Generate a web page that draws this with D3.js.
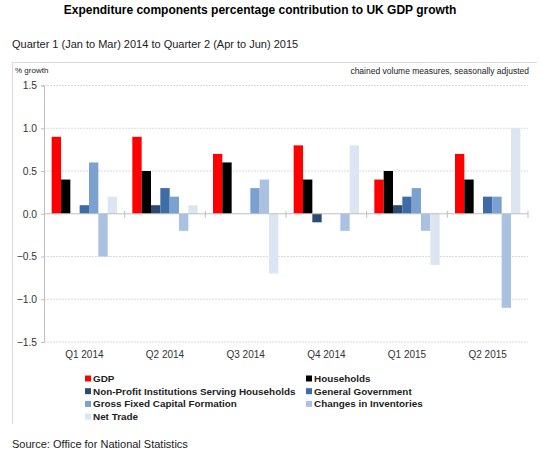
<!DOCTYPE html>
<html>
<head>
<meta charset="utf-8">
<script src="https://cdn.jsdelivr.net/npm/d3@7"></script>
<style>
  body { margin: 0; background: #fff; }
  svg { font-family: "Liberation Sans", Arial, sans-serif; }
</style>
</head>
<body>
<div id="chart"></div>
<script>
// chart values
const quarters = ["Q1 2014", "Q2 2014", "Q3 2014", "Q4 2014", "Q1 2015", "Q2 2015"];
const seriesNames = ["GDP", "Households", "Non-Profit Institutions Serving Households",
	"General Government", "Gross Fixed Capital Formation", "Changes in Inventories", "Net Trade"];
const gdp = [0.9, 0.9, 0.7, 0.8, 0.4, 0.7];
const households = [0.4, 0.5, 0.6, 0.4, 0.5, 0.4];
const npish = [0, 0.1, 0, -0.1, 0.1, 0];
const government = [0.1, 0.3, 0, 0, 0.2, 0.2];
const gfcf = [0.6, 0.2, 0.3, 0, 0.3, 0.2];
const inventories = [-0.5, -0.2, 0.4, -0.2, -0.2, -1.1];
const netTrade = [0.2, 0.1, -0.7, 0.8, -0.6, 1.0];
const yTicks = [-1.5, -1.0, -0.5, 0.0, 0.5, 1.0, 1.5];

const seriesValues = [gdp, households, npish, government, gfcf, inventories, netTrade];
const colors = ["#ff0000", "#000000", "#2c4a72", "#3d6ca7", "#7ba1d0", "#aac2e2", "#dce6f2"];

const width = 547, height = 459;
const plot = { left: 44, right: 528, top: 85.5, bottom: 342 };

const svg = d3.select("#chart").append("svg")
	.attr("width", width)
	.attr("height", height);

// frame (top and left edges only show)
svg.append("line")
	.attr("x1", 12).attr("x2", 537).attr("y1", 62.5).attr("y2", 62.5)
	.attr("stroke", "#d9d9d9");
svg.append("line")
	.attr("x1", 12.5).attr("x2", 12.5).attr("y1", 62).attr("y2", 424)
	.attr("stroke", "#d9d9d9");

// titles
svg.append("text")
	.attr("x", 260).attr("y", 14)
	.attr("text-anchor", "middle")
	.style("font-size", "12px")
	.style("font-weight", "bold")
	.text("Expenditure components percentage contribution to UK GDP growth");

svg.append("text")
	.attr("x", 12).attr("y", 48)
	.style("font-size", "11px")
	.attr("fill", "#222")
	.text("Quarter 1 (Jan to Mar) 2014 to Quarter 2 (Apr to Jun) 2015");

svg.append("text")
	.attr("x", 15).attr("y", 73)
	.style("font-size", "8px")
	.attr("fill", "#222")
	.text("% growth");

svg.append("text")
	.attr("x", 529).attr("y", 74)
	.attr("text-anchor", "end")
	.style("font-size", "8.5px")
	.attr("fill", "#222")
	.text("chained volume measures, seasonally adjusted");

// scales
const x0 = d3.scaleBand()
	.domain(quarters)
	.range([plot.left, plot.right]);

const x1 = d3.scaleBand()
	.domain(seriesNames)
	.range([0, x0.bandwidth()])
	.paddingOuter(0.82);

const y = d3.scaleLinear()
	.domain([-1.5, 1.5])
	.range([plot.bottom, plot.top]);

// gridlines
svg.append("g")
	.selectAll("line")
	.data(yTicks.filter(d => d !== 0))
	.join("line")
	.attr("x1", plot.left).attr("x2", plot.right)
	.attr("y1", d => y(d)).attr("y2", d => y(d))
	.attr("stroke", "#dadada")
	.attr("stroke-dasharray", "2,1");

// y axis
const yAxis = d3.axisLeft(y)
	.tickValues(yTicks)
	.tickFormat(d3.format(".1f"))
	.tickSize(3)
	.tickPadding(4);

const yAxisGroup = svg.append("g")
	.attr("transform", "translate(" + plot.left + ",0)")
	.call(yAxis);
yAxisGroup.select(".domain").attr("stroke", "#bfbfbf");
yAxisGroup.selectAll("line").attr("stroke", "#bfbfbf");
yAxisGroup.selectAll("text")
	.style("font-size", "10.3px")
	.style("font-family", "'Liberation Sans', Arial, sans-serif")
	.attr("fill", "#333");

// bars
const groups = svg.append("g")
	.selectAll("g")
	.data(quarters)
	.join("g")
	.attr("transform", d => "translate(" + x0(d) + ",0)");

groups.selectAll("rect")
	.data((q, i) => seriesNames.map((s, j) => ({ series: s, value: seriesValues[j][i], color: colors[j] })))
	.join("rect")
	.attr("x", d => x1(d.series))
	.attr("width", x1.bandwidth())
	.attr("y", d => y(Math.max(0, d.value)))
	.attr("height", d => Math.abs(y(d.value) - y(0)))
	.attr("fill", d => d.color);

// zero axis with category ticks
const xAxis = d3.axisBottom(x0).tickSize(0).tickPadding(0);
svg.append("line")
	.attr("x1", plot.left).attr("x2", plot.right)
	.attr("y1", y(0)).attr("y2", y(0))
	.attr("stroke", "#bfbfbf");
svg.append("g")
	.selectAll("line")
	.data(quarters.slice(1).concat(["end"]))
	.join("line")
	.attr("x1", d => d === "end" ? plot.right : x0(d))
	.attr("x2", d => d === "end" ? plot.right : x0(d))
	.attr("y1", y(0) - 3).attr("y2", y(0) + 4)
	.attr("stroke", "#bfbfbf");

// category labels along bottom
const xAxisGroup = svg.append("g")
	.attr("transform", "translate(0," + (plot.bottom + 9) + ")")
	.call(xAxis);
xAxisGroup.select(".domain").remove();
xAxisGroup.selectAll("text")
	.style("font-size", "10px")
	.style("font-family", "'Liberation Sans', Arial, sans-serif")
	.attr("fill", "#333");

// legend
const legend = svg.append("g");
const legendItems = legend.selectAll("g")
	.data(seriesNames)
	.join("g")
	.attr("transform", (d, i) => "translate(" + (i % 2 === 0 ? 85 : 306) + "," + (378.5 + Math.floor(i / 2) * 12.7) + ")");
legendItems.append("rect")
	.attr("x", 0).attr("y", -3)
	.attr("width", 6).attr("height", 6)
	.attr("fill", (d, i) => colors[i]);
legendItems.append("text")
	.attr("x", 8).attr("y", 3.5)
	.style("font-size", "9.9px")
	.style("font-weight", "bold")
	.attr("fill", "#222")
	.text(d => d);

// source
svg.append("text")
	.attr("x", 12).attr("y", 448)
	.style("font-size", "11px")
	.attr("fill", "#222")
	.text("Source: Office for National Statistics");
</script>
</body>
</html>
